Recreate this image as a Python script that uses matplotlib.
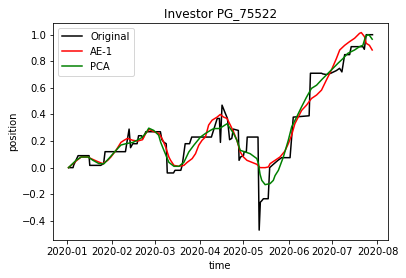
import numpy as np
import matplotlib
matplotlib.use("Agg")
import matplotlib.pyplot as plt

# days since 2020-01-01
orig_days = [1, 4, 4.5, 7.5, 15, 15.5, 23, 25, 26, 40, 41, 42.5, 43.5, 45, 48, 49, 51, 52, 54, 64,
             65, 66.5, 68, 68.7, 73, 74, 78, 79, 81, 84, 85.5, 99, 101, 103, 104.5, 105.2, 106.3,
             108.5, 110, 111.5, 113, 114, 117.5, 118, 119, 121, 121.5, 123, 123.6, 131, 131.8,
             132.6, 133.5, 134.7, 138, 139, 141, 144.7, 147.2, 153, 155.2, 166.1, 167, 174.6,
             175.5, 178, 181, 184.8, 187, 188.6, 190.5, 193.9, 195, 203, 204, 205.3, 209.6]
orig_vals = [0.00, 0.00, 0.02, 0.09, 0.09, 0.017, 0.017, 0.03, 0.12, 0.12, 0.19, 0.29, 0.15, 0.18,
             0.18, 0.24, 0.24, 0.22, 0.27, 0.27, 0.21, 0.19, 0.18, -0.04, -0.04, -0.02, -0.02, 0.02,
             0.18, 0.18, 0.23, 0.23, 0.30, 0.37, 0.37, 0.19, 0.47, 0.41, 0.37, 0.21, 0.22, 0.29,
             0.28, 0.055, 0.08, 0.09, 0.12, 0.12, 0.23, 0.23, -0.47, -0.26, -0.25, -0.234, -0.234,
             0.00, 0.02, 0.055, 0.075, 0.075, 0.38, 0.39, 0.71, 0.71, 0.705, 0.70, 0.71, 0.73,
             0.747, 0.72, 0.85, 0.85, 0.91, 0.91, 0.89, 1.00, 1.00]

ae_days = [0.9, 6.1, 9.6, 14.1, 16.4, 21, 24.4, 27.8, 30, 33.5, 36.9, 39.1, 41.4, 44.9, 48.3, 51.7,
           53.9, 56.2, 59.6, 63, 65.3, 67.6, 69.8, 71, 73.3, 76.7, 80.1, 82.4, 85.8, 88.1, 90.3,
           92.6, 94.9, 97.1, 99.5, 102.9, 105.1, 107.4, 109.7, 112, 114.2, 116.5, 118.8, 121,
           123.4, 126.8, 130.2, 132.4, 135.9, 138.1, 139.3, 142.7, 146.1, 149.5, 151.8, 154.1,
           156.3, 158.6, 160.9, 164.3, 167.7, 171.2, 174.6, 178, 181.4, 184.8, 187.1, 190.5,
           193.9, 197.3, 200.7, 201.9, 204.1, 205.3, 207.5, 209.4]
ae_vals = [0.00, 0.05, 0.08, 0.08, 0.068, 0.045, 0.03, 0.055, 0.08, 0.13, 0.19, 0.206, 0.22, 0.206,
           0.20, 0.21, 0.257, 0.287, 0.27, 0.257, 0.215, 0.155, 0.08, 0.055, 0.017, 0.01, 0.017,
           0.04, 0.068, 0.105, 0.168, 0.206, 0.23, 0.32, 0.357, 0.38, 0.40, 0.38, 0.37, 0.32, 0.27,
           0.206, 0.118, 0.08, 0.055, 0.04, 0.025, 0.00, 0.00, 0.005, 0.03, 0.055, 0.08, 0.125,
           0.18, 0.245, 0.33, 0.38, 0.43, 0.47, 0.52, 0.546, 0.583, 0.66, 0.734, 0.82, 0.885,
           0.92, 0.948, 0.973, 1.01, 1.016, 0.985, 0.935, 0.92, 0.885]

pca_days = [0.9, 6.1, 9.6, 14.3, 17.7, 21.8, 25.3, 28.7, 33.5, 36.9, 40.3, 45.1, 50.5, 53.9, 56,
            59.4, 62.8, 64.2, 66.4, 69.8, 73.3, 76.7, 80.1, 83.5, 86.9, 91.5, 94.9, 98.3, 100.6,
            104, 106.3, 109.7, 112, 114.2, 116.5, 118.8, 122.2, 125.6, 130.2, 131.3, 132.4, 133.6,
            135.9, 139.3, 141.5, 142.7, 145, 148.4, 151.8, 154.1, 157.5, 160.9, 164.3, 167.7,
            171.2, 174.6, 179.1, 182.5, 185.9, 189.3, 192.7, 197.3, 200.7, 203, 204.8, 206.4,
            207.5, 209.4]
pca_vals = [0.00, 0.055, 0.08, 0.08, 0.055, 0.03, 0.03, 0.07, 0.13, 0.17, 0.18, 0.19, 0.22, 0.257,
            0.297, 0.28, 0.244, 0.19, 0.13, 0.04, 0.01, 0.01, 0.04, 0.118, 0.168, 0.23, 0.257,
            0.28, 0.294, 0.294, 0.306, 0.33, 0.294, 0.257, 0.206, 0.13, 0.118, 0.105, 0.068, 0.03,
            -0.05, -0.096, -0.128, -0.12, -0.096, -0.06, -0.02, 0.08, 0.206, 0.306, 0.38, 0.457,
            0.53, 0.596, 0.62, 0.66, 0.71, 0.747, 0.785, 0.82, 0.86, 0.885, 0.91, 0.92, 0.985,
            1.00, 0.995, 0.966]


def to_dates(days):
    base = np.datetime64('2020-01-01T00:00')
    return base + (np.array(days) * 24 * 60).astype('timedelta64[m]')


fig = plt.figure(figsize=(406 / 72, 278 / 72), dpi=72)
ax = fig.add_axes([0.1313, 0.1367, 0.8236, 0.7817])
ax.plot(to_dates(orig_days), orig_vals, color='black', label='Original')
ax.plot(to_dates(ae_days), ae_vals, color='red', label='AE-1')
ax.plot(to_dates(pca_days), pca_vals, color='green', label='PCA')
ax.set_title('Investor PG_75522', fontsize=12)
ax.set_xlabel('time')
ax.set_ylabel('position')
ax.legend(loc='upper left')
fig.savefig('out.png', dpi=72)
